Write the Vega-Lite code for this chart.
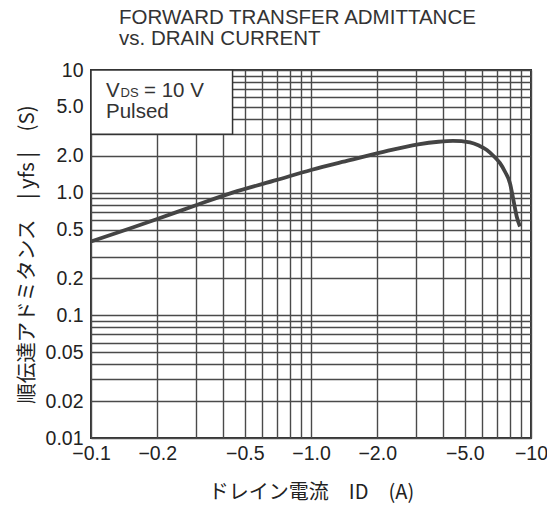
{
  "$schema": "https://vega.github.io/schema/vega-lite/v6.json",
  "width": 440,
  "height": 368,
  "autosize": "none",
  "padding": {"left": 91, "top": 70, "right": 16, "bottom": 73},
  "background": "white",
  "config": {
    "font": "Liberation Sans",
    "view": {"stroke": "#333", "strokeWidth": 2}
  },
  "title": {
    "text": ["FORWARD TRANSFER ADMITTANCE", "vs. DRAIN CURRENT"],
    "anchor": "start",
    "frame": "group",
    "dx": 28,
    "offset": 11,
    "fontSize": 20.5,
    "fontWeight": "normal",
    "color": "#333",
    "lineHeight": 21
  },
  "datasets": {
    "curve": [
      {"x": 0.1, "y": 0.40},
      {"x": 0.15, "y": 0.51},
      {"x": 0.2, "y": 0.61},
      {"x": 0.3, "y": 0.79},
      {"x": 0.44, "y": 1.0},
      {"x": 0.7, "y": 1.27},
      {"x": 1.0, "y": 1.53},
      {"x": 1.5, "y": 1.84},
      {"x": 2.06, "y": 2.12},
      {"x": 3.07, "y": 2.48},
      {"x": 3.8, "y": 2.6},
      {"x": 4.42, "y": 2.64},
      {"x": 5.28, "y": 2.57},
      {"x": 5.8, "y": 2.42},
      {"x": 6.3, "y": 2.23},
      {"x": 6.74, "y": 2.0},
      {"x": 7.23, "y": 1.74},
      {"x": 7.62, "y": 1.48},
      {"x": 8.03, "y": 1.19},
      {"x": 8.32, "y": 0.87},
      {"x": 8.61, "y": 0.64},
      {"x": 8.91, "y": 0.53}
    ],
    "box": [{"x": 0.1, "x2": 0.44, "y": 3, "y2": 10}],
    "note1": [{"x": 0.117, "y": 5.98, "t": "V"}, {"x": 0.117, "y": 4.06, "t": "Pulsed"}],
    "note2": [{"x": 0.117, "y": 5.98, "t": "DS"}],
    "note3": [{"x": 0.117, "y": 5.98, "t": "= 10 V"}]
  },
  "encoding": {
    "x": {
      "field": "x",
      "type": "quantitative",
      "scale": {"type": "log", "domain": [0.1, 10], "nice": false},
      "axis": {
        "values": [0.1, 0.2, 0.3, 0.4, 0.5, 0.6, 0.7, 0.8, 0.9, 1, 2, 3, 4, 5, 6, 7, 8, 9, 10],
        "labelExpr": "datum.value==0.1?'−0.1':datum.value==0.2?'−0.2':datum.value==0.5?'−0.5':datum.value==1?'−1.0':datum.value==2?'−2.0':datum.value==5?'−5.0':datum.value==10?'−10':''",
        "grid": true,
        "gridColor": "#4a4a4a",
        "gridWidth": 1.4,
        "gridOpacity": 1,
        "ticks": false,
        "domain": false,
        "labelFlush": false,
        "labelOverlap": false,
        "labelFontSize": 19.5,
        "labelColor": "#222",
        "labelPadding": 6,
        "title": "ドレイン電流　ID　(A)",
        "titleFont": "Noto Sans CJK JP",
        "titleFontSize": 20,
        "titleFontWeight": "normal",
        "titleColor": "#222",
        "titlePadding": 20
      }
    },
    "y": {
      "field": "y",
      "type": "quantitative",
      "scale": {"type": "log", "domain": [0.01, 10], "nice": false},
      "axis": {
        "values": [0.01, 0.02, 0.03, 0.04, 0.05, 0.06, 0.07, 0.08, 0.09, 0.1, 0.2, 0.3, 0.4, 0.5, 0.6, 0.7, 0.8, 0.9, 1, 2, 3, 4, 5, 6, 7, 8, 9, 10],
        "labelExpr": "datum.value==10?'10':datum.value==5?'5.0':datum.value==2?'2.0':datum.value==1?'1.0':datum.value==0.5?'0.5':datum.value==0.2?'0.2':datum.value==0.1?'0.1':datum.value==0.05?'0.05':datum.value==0.02?'0.02':datum.value==0.01?'0.01':''",
        "grid": true,
        "gridColor": "#4a4a4a",
        "gridWidth": 1.4,
        "gridOpacity": 1,
        "ticks": false,
        "domain": false,
        "labelFlush": false,
        "labelOverlap": false,
        "labelFontSize": 19.5,
        "labelColor": "#222",
        "labelPadding": 8,
        "title": "順伝達アドミタンス　| yfs |　(S)",
        "titleFont": "Noto Sans CJK JP",
        "titleFontSize": 20.5,
        "titleFontWeight": "normal",
        "titleColor": "#222",
        "titlePadding": 8
      }
    }
  },
  "layer": [
    {
      "data": {"name": "box"},
      "mark": {"type": "rect", "fill": "white", "stroke": "#333", "strokeWidth": 1.5},
      "encoding": {"x2": {"field": "x2"}, "y2": {"field": "y2"}}
    },
    {
      "data": {"name": "curve"},
      "mark": {"type": "line", "color": "#444", "strokeWidth": 3.8, "interpolate": "monotone"}
    },
    {
      "data": {"name": "note1"},
      "mark": {"type": "text", "align": "left", "baseline": "alphabetic", "fontSize": 20.5, "color": "#333"},
      "encoding": {"text": {"field": "t"}}
    },
    {
      "data": {"name": "note2"},
      "mark": {"type": "text", "align": "left", "baseline": "alphabetic", "fontSize": 13, "dx": 14.5, "color": "#333"},
      "encoding": {"text": {"field": "t"}}
    },
    {
      "data": {"name": "note3"},
      "mark": {"type": "text", "align": "left", "baseline": "alphabetic", "fontSize": 20.5, "dx": 38, "color": "#333"},
      "encoding": {"text": {"field": "t"}}
    }
  ]
}
